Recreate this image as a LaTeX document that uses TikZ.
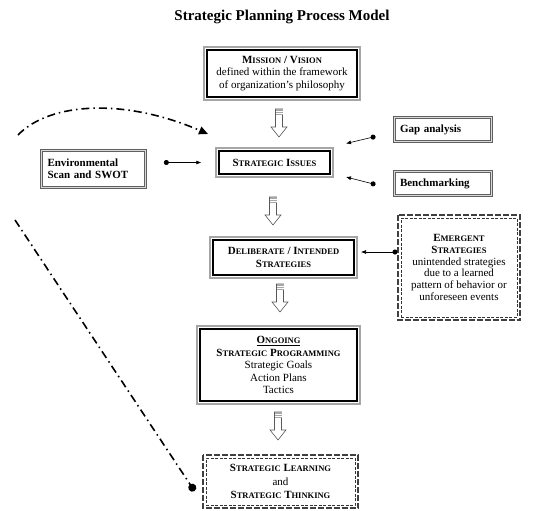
\documentclass[tikz,border=0pt]{standalone}
\usepackage{fontspec}
\setmainfont{Liberation Serif}
\usetikzlibrary{arrows.meta}
\newcommand\SC[2]{#1{\fontsize{8.5}{10}\selectfont #2}}
\begin{document}
\begin{tikzpicture}[x=1pt,y=-1pt,
  txt/.style={font=\fontsize{11}{12.5}\selectfont, align=center, inner sep=0pt},
  mainbox/.style={txt, draw=black, line width=1.4pt, fill=white},
  graybox/.style={txt, draw=gray!75!black, double=gray!30, line width=0.7pt, double distance=0.7pt, font=\fontsize{11}{12.5}\selectfont\bfseries, align=left},
  dashbox/.style={txt, draw=black!80, line width=0.6pt, dash pattern=on 3pt off 1.5pt},
  outergray/.style={draw=gray!70, line width=1.8pt},
  outerdash/.style={draw=black!75, line width=1.8pt, dash pattern=on 6pt off 2pt},
  dotarrow/.style={line width=0.6pt, {Circle[length=5pt]}-{Latex[length=5pt,width=4pt]}},
  dashdot/.style={line width=1.6pt, dash pattern=on 8pt off 4pt on 1.5pt off 4pt},
  harrow/.pic={
    \draw[gray!70!black, line width=0.6pt, fill=white]
      (-3.5,0) -- (-3.5,18) -- (-8,18) -- (0,28) -- (8,18) -- (3.5,18) -- (3.5,0) -- cycle;
    \fill[gray!70] (-3.5,0) rectangle (3.5,6);
    \draw[white, line width=0.5pt] (-3.5,2) -- (3.5,2) (-3.5,4) -- (3.5,4);
  }]
\useasboundingbox (0,0) rectangle (533,511);

\node[font=\fontsize{15}{17}\selectfont\bfseries] (title) at (282,17) {Strategic Planning Process Model};

% main column
\node[mainbox, minimum width=150pt, minimum height=47pt] (mission) at (282,73.5)
  {\textbf{\SC{M}{ISSION} / \SC{V}{ISION}}\\defined within the framework\\of organization’s philosophy};
\node[mainbox, minimum width=111pt, minimum height=23pt] (issues) at (274.5,162.5)
  {\textbf{\SC{S}{TRATEGIC} \SC{I}{SSUES}}};
\node[mainbox, minimum width=141pt, minimum height=35pt] (delib) at (283.5,257.5)
  {\textbf{\SC{D}{ELIBERATE} / \SC{I}{NTENDED}}\\\textbf{\SC{S}{TRATEGIES}}};
\node[mainbox, minimum width=157pt, minimum height=72pt] (ongoing) at (278.5,365)
  {\textbf{\underline{\SC{O}{NGOING}}}\\\textbf{\SC{S}{TRATEGIC} \SC{P}{ROGRAMMING}}\\Strategic Goals\\Action Plans\\Tactics};
\node[dashbox, minimum width=149pt, minimum height=47pt, font=\fontsize{11}{13.5}\selectfont] (learn) at (280.5,481.5)
  {\textbf{\SC{S}{TRATEGIC} \SC{L}{EARNING}}\\and\\\textbf{\SC{S}{TRATEGIC} \SC{T}{HINKING}}};

% outer borders
\foreach \n in {mission,issues,delib,ongoing}{
  \draw[outergray] ([shift={(-2.3,-2.3)}]\n.north west) rectangle ([shift={(2.3,2.3)}]\n.south east);
}
\draw[outerdash] ([shift={(-2.8,-2.8)}]learn.north west) rectangle ([shift={(2.8,2.8)}]learn.south east);

% side boxes
\node[graybox, minimum width=104pt, minimum height=37pt, text width=92pt] (env) at (93.5,169)
  {Environmental\\Scan and SWOT};
\node[graybox, minimum width=97pt, minimum height=24pt, text width=86pt] (gap) at (443,129.5)
  {Gap analysis};
\node[graybox, minimum width=97pt, minimum height=24pt, text width=86pt] (bench) at (443,183.5)
  {Benchmarking};
\node[dashbox, minimum width=116pt, minimum height=99pt, font=\fontsize{11}{11.8}\selectfont] (emerg) at (459,267.5)
  {\textbf{\SC{E}{MERGENT}}\\\textbf{\SC{S}{TRATEGIES}}\\unintended strategies\\due to a learned\\pattern of behavior or\\unforeseen events};
\draw[outerdash] ([shift={(-2.8,-2.8)}]emerg.north west) rectangle ([shift={(2.8,2.8)}]emerg.south east);

% hollow arrows
\pic at (279,109) {harrow};
\pic at (273,197) {harrow};
\pic at (280,284) {harrow};
\pic at (278,412) {harrow};

% small connectors
\draw[dotarrow, shorten <=18pt, shorten >=17pt] (env.east |- issues.west) -- (issues.west);
\coordinate (gapfrom) at (375.5,136.5);
\coordinate (gapto) at (346,143.5);
\draw[dotarrow] (gapfrom) -- (gapto);
\coordinate (benchfrom) at (375.5,184.5);
\coordinate (benchto) at (346,177);
\draw[dotarrow] (benchfrom) -- (benchto);
\coordinate (emfrom) at (397.5,252);
\coordinate (emto) at (361,252);
\draw[dotarrow] (emfrom) -- (emto);

% dash-dot connectors
\coordinate (cstart) at (18,135);
\coordinate (ctip) at (208,134);
\draw[dashdot, -{Triangle[length=9pt,width=8pt]}] (cstart) .. controls (50,102) and (125,98) .. (ctip);
\coordinate (lstart) at (15,220);
\coordinate (lend) at (194.5,491);
\draw[dashdot, -{Circle[length=8pt]}] (lstart) -- (lend);
\end{tikzpicture}
\end{document}
